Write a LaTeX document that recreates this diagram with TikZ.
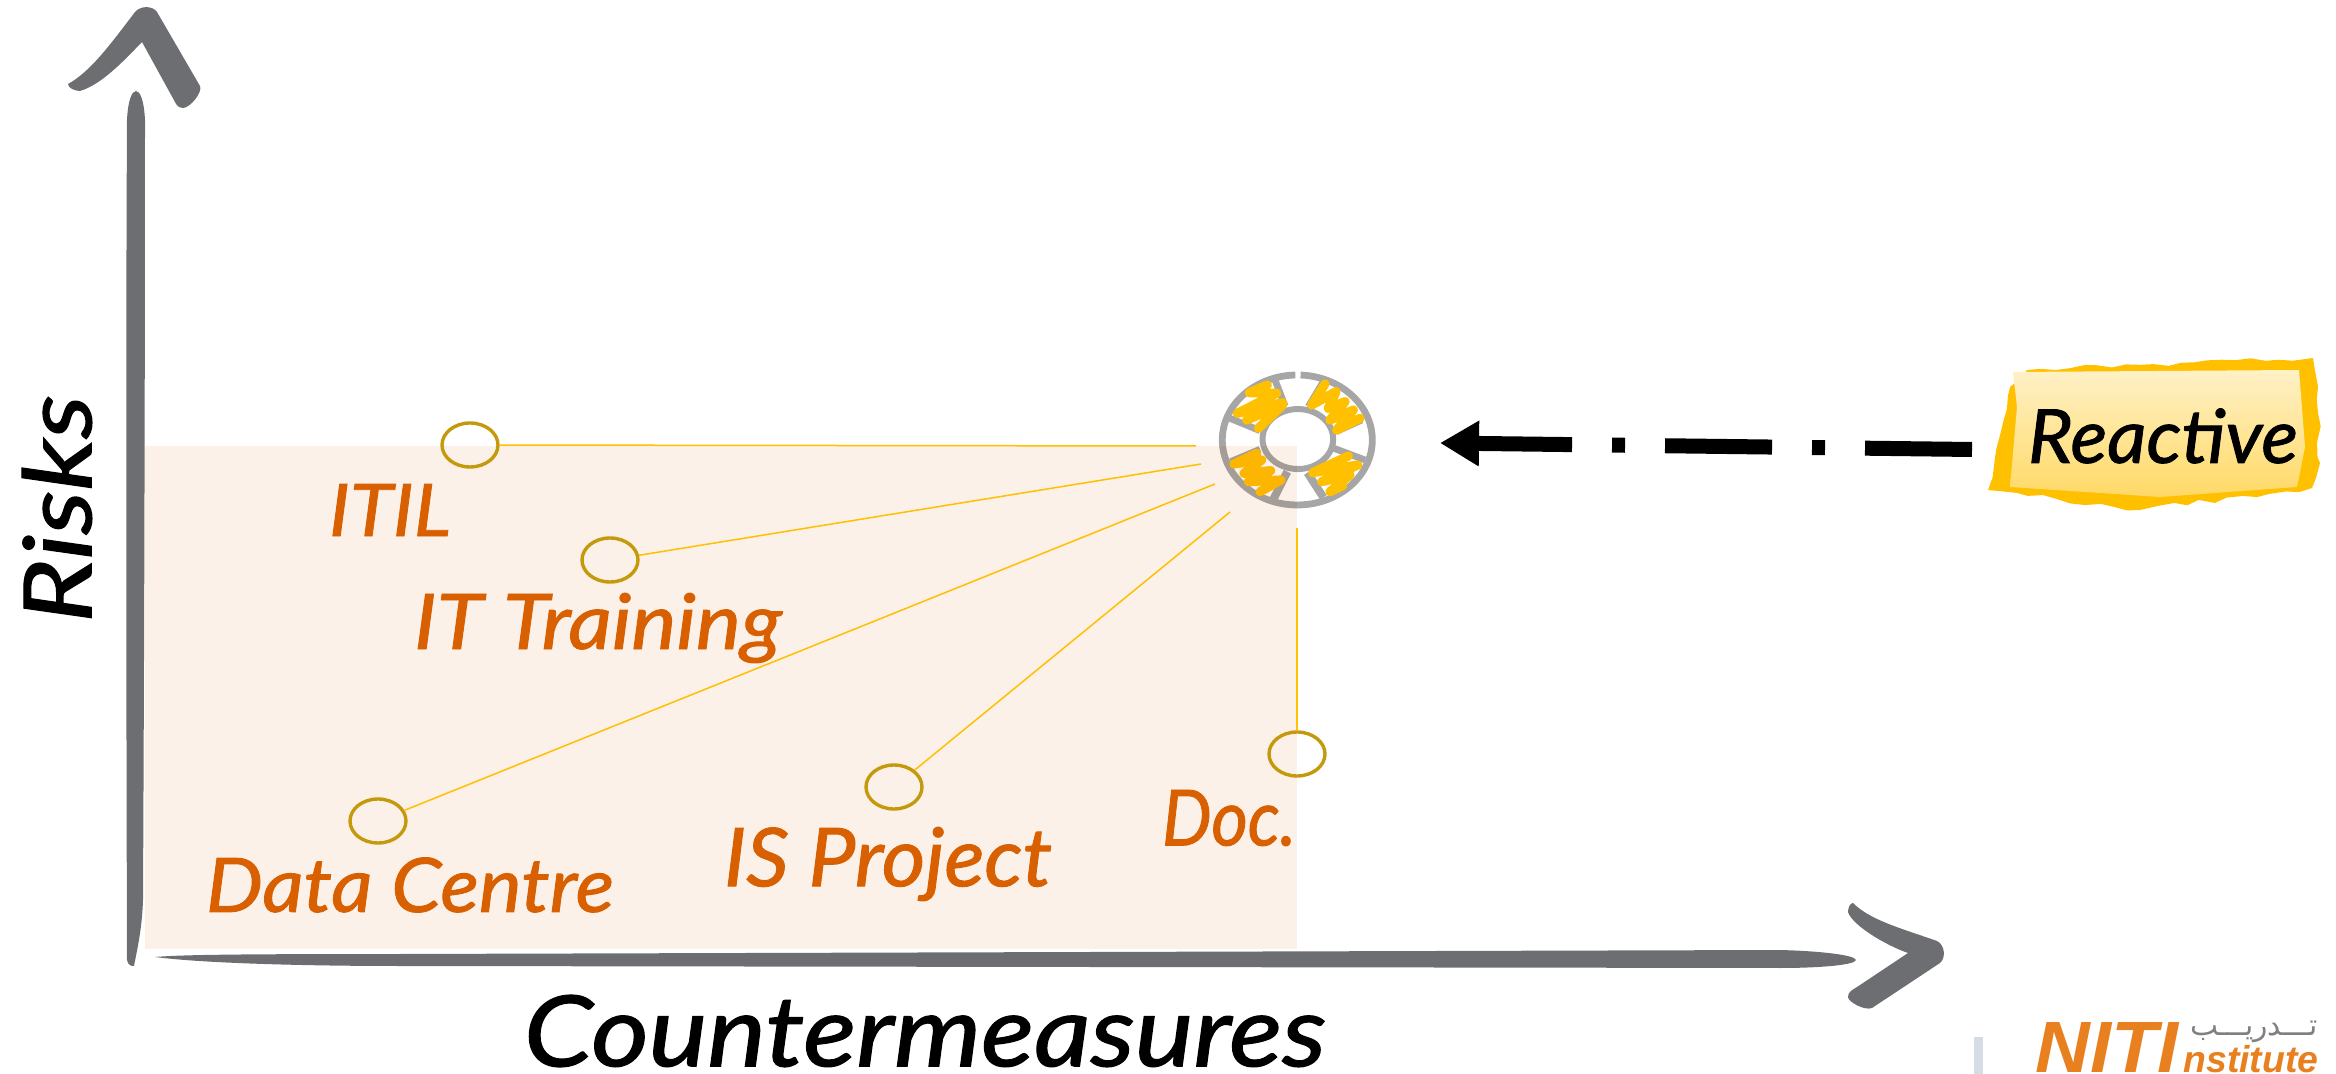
\documentclass[tikz,border=0pt]{standalone}
\usepackage{fontspec}
\usepackage{graphicx}
\usetikzlibrary{arrows.meta,shapes.geometric,decorations.pathmorphing}
\newfontfamily\handfont{Lato}[FakeBold=1.2]
\newfontfamily\logofont{Liberation Sans}
\newfontfamily\arabicfont[Script=Arabic]{DejaVu Sans}
\TeXXeTstate=1
\definecolor{axisgray}{HTML}{6D6E71}
\definecolor{ringgray}{HTML}{A6A6A6}
\definecolor{gold}{HTML}{FFC000}
\definecolor{panel}{HTML}{FCF1E9}
\definecolor{marker}{HTML}{C49A0C}
\definecolor{labelorange}{HTML}{D96000}
\definecolor{logoorange}{HTML}{E98020}
\newcommand{\handtext}[3]{\resizebox*{#1pt}{#2pt}{\handfont\itshape\fontsize{20pt}{24pt}\selectfont #3}}
\tikzset{
  axisfill/.style={fill=axisgray,draw=none},
  spoke/.style={draw=ringgray,line width=3.4pt,line cap=butt},
  scribble/.style={draw=gold,line width=4.6pt,line cap=round,line join=round},
  markerring/.style={draw=marker,line width=1.7pt,ellipse,minimum width=28pt,minimum height=22pt,inner sep=0pt},
  leader/.style={draw=gold,line width=0.75pt},
  lab/.style={text=labelorange,inner sep=0pt},
  axislab/.style={text=black,inner sep=0pt},
}
\begin{document}
\begin{tikzpicture}[x=0.5pt,y=-0.5pt]
\useasboundingbox (0,0) rectangle (2336,1074);
% lifebuoy
\begin{scope}[shift={(1180,340)},x=0.16667pt,y=-0.16667pt]
  \draw[spoke] (285,120)--(315,198);
  \draw[spoke] (150,235)--(240,272);
  \draw[spoke] (240,328)--(152,365);
  \draw[spoke,line width=4pt] (322,395)--(280,478);
  \draw[spoke,line width=4pt] (382,398)--(430,472);
  \draw[spoke] (462,325)--(555,360);
  \draw[spoke] (430,125)--(385,200);
  \draw[spoke] (468,275)--(545,240);
  \draw[draw=ringgray,line width=3.4pt] (346,105) arc[start angle=-91.5,end angle=-447.5,x radius=225,y radius=195];
  \draw[draw=ringgray,line width=3pt] (348,387) arc[start angle=93,end angle=-273,x radius=106,y radius=90];
  \draw[scribble] (262,135)--(208,158)--(290,160)--(172,220)--(308,188)--(200,240)--(308,195)--(235,265);
  \draw[scribble] (435,132)--(395,195)--(468,155)--(445,205)--(495,185)--(450,240)--(520,210)--(470,270)--(540,235);
  \draw[scribble] (230,340)--(162,372)--(245,360)--(192,400)--(272,392)--(205,425)--(303,420)--(240,455);
  \draw[scribble] (505,348)--(398,398)--(533,375)--(425,425)--(510,405)--(450,455)--(488,437);
\end{scope}
% panel
\begin{scope}[blend mode=multiply]
  \fill[panel] (145,446) rectangle (1297,949);
\end{scope}
% axes
\fill[axisfill] (127,960) .. controls (126,600) and (126,300) .. (127,120)
  .. controls (128,100) and (132,91) .. (136,91) .. controls (140,91) and (144,100) .. (145,120)
  .. controls (145,400) and (144,700) .. (143,900) .. controls (142,930) and (137,950) .. (134,966)
  .. controls (132,966) and (128,966) .. cycle;
\fill[axisfill] (68,84) .. controls (90,72) and (110,45) .. (135,12)
  .. controls (140,6) and (152,5) .. (157,12) -- (200,86)
  .. controls (203,92) and (190,108) .. (183,108) .. controls (178,108) and (176,104) .. (175,102)
  -- (142,42) .. controls (120,65) and (100,85) .. (80,91) .. controls (75,91) and (68,88) .. cycle;
\fill[axisfill] (155,957) .. controls (180,955) and (220,954) .. (400,954) -- (1780,950)
  .. controls (1820,951) and (1855,955) .. (1856,960) .. controls (1855,965) and (1820,968) .. (1780,968)
  -- (400,966) .. controls (300,966) and (200,963) .. cycle;
\fill[axisfill] (1853,903) .. controls (1870,920) and (1900,928) .. (1937,941)
  .. controls (1945,945) and (1946,958) .. (1940,963) -- (1872,1008)
  .. controls (1865,1011) and (1848,1002) .. (1848,997) .. controls (1848,992) and (1852,990) .. (1857,987)
  -- (1908,953) .. controls (1885,945) and (1852,925) .. (1848,912) .. controls (1848,908) and (1850,903) .. cycle;
% connector ends at the lifebuoy
\coordinate (hubA) at (1196,446);
\coordinate (hubB) at (1201,464);
\coordinate (hubC) at (1215,484);
\coordinate (hubD) at (1230,512);
\coordinate (hubE) at (1297,528);
% markers
\node[markerring] (mITIL) at (470,445) {};
\node[markerring] (mTrain) at (610,560) {};
\node[markerring] (mData) at (378,821) {};
\node[markerring] (mIS) at (894,787) {};
\node[markerring] (mDoc) at (1297,754) {};
\draw[leader] (mITIL) -- (hubA);
\draw[leader] (mTrain) -- (hubB);
\draw[leader] (mData) -- (hubC);
\draw[leader] (mIS) -- (hubD);
\draw[leader] (mDoc) -- (hubE);
% labels
\node[lab] (tITIL) at (390,510) {\handtext{61}{26}{ITIL}};
\node[lab] (tTrain) at (598,628) {\handtext{184}{35}{IT Training}};
\node[lab] (tData) at (410,885) {\handtext{204}{27.5}{Data Centre}};
\node[lab] (tIS) at (888,864) {\handtext{164}{37}{IS Project}};
\node[lab] (tDoc) at (1229,818) {\handtext{67}{28}{Doc.}};
\node[axislab] (tCounter) at (925,1031) {\handtext{401}{36}{Countermeasures}};
\node[axislab,rotate=90] (tRisks) at (57,509) {\handtext{114}{35}{Risks}};
% reactive box
\pgfmathsetseed{7}
\fill[gold,decorate,decoration={random steps,segment length=7pt,amplitude=1.3pt}]
  (2027,370) -- (2313,358) -- (2318,413) -- (2320,463) -- (2312,488) -- (2140,510) -- (1988,490) -- (2010,387) -- cycle;
\shade[top color=gold!22!white,bottom color=gold!60!white]
  (2013,372) -- (2299,370) -- (2305,447) -- (2297,487) -- (2160,497) -- (2010,487) -- (2017,407) -- cycle;
\node[axislab] (reactive) at (2163,436) {\handtext{135}{27.5}{Reactive}};
% dash-dot arrow
\coordinate (dashStart) at (1972,449.5);
\coordinate (dashEnd) at (1440,443);
\draw[black,line width=7.5pt,dash pattern=on 53.5pt off 20pt on 6.5pt off 20pt,
  -{Triangle[length=19.5pt,width=21.5pt]}] (dashStart) -- (dashEnd);
% logo
\fill[fill={rgb,255:red,214;green,220;blue,229}] (1974,1037) rectangle (1983,1074);
\node[inner sep=0pt,anchor=base west,text=logoorange] (logoA) at (2035,1072)
  {\resizebox{71.5pt}{25pt}{\logofont\bfseries\itshape\fontsize{30pt}{30pt}\selectfont NITI}};
\node[inner sep=0pt,anchor=base west,text=logoorange] (logoB) at (2183,1072)
  {\resizebox{67.5pt}{!}{\logofont\bfseries\itshape\fontsize{14pt}{14pt}\selectfont nstitute}};
\node[inner sep=0pt,text=gray] (logoC) at (2254,1032)
  {\resizebox{64pt}{!}{\arabicfont\fontsize{12pt}{12pt}\selectfont\beginR تـــدريـــب\endR}};
\end{tikzpicture}
\end{document}
